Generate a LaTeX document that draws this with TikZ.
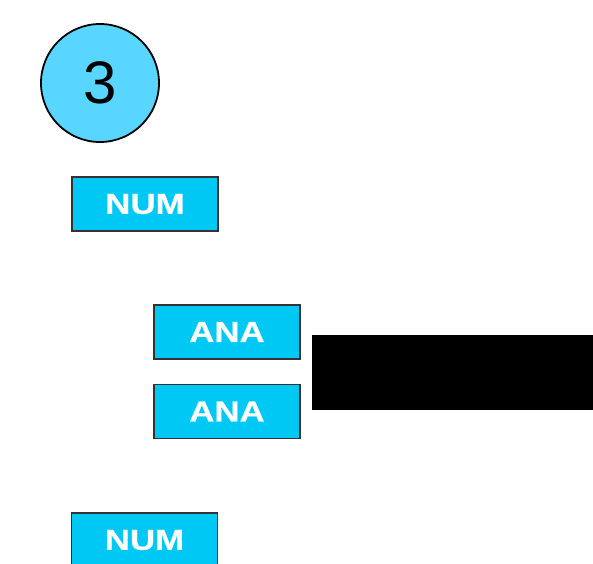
\documentclass[tikz,border=0pt]{standalone}
\usepackage{fontspec}
\setmainfont{Liberation Sans}
\newfontfamily\tagfont[FakeStretch=1.2, BoldFeatures={FakeBold=0.6}]{Liberation Sans}
\definecolor{stepblue}{RGB}{88,214,255}
\definecolor{tagblue}{RGB}{0,200,245}

\begin{document}
\begin{tikzpicture}[x=0.5pt, y=-0.5pt,
    tag/.style={draw=black!80, fill=tagblue, line width=0.8pt, minimum width=73pt, minimum height=27pt,
      inner sep=0pt, text=white, font=\tagfont\bfseries\fontsize{14.5}{14.5}\selectfont}]
    \useasboundingbox (0,0) rectangle (593,563);
    \clip (0,0) rectangle (593,563);
    \node[circle, draw, fill=stepblue, line width=0.9pt, minimum size=59pt, inner sep=0pt,
      font=\fontsize{30}{30}\selectfont] (step3) at (100,83) {3};
    \node[tag] (num1) at (145,204) {NUM};
    \node[tag] (ana1) at (227,332) {ANA};
    \node[tag] (ana2) at (227,411.5) {ANA};
    \node[tag] (num2) at (144.5,540) {NUM};
    % black bar running off the right edge
    \fill[black] (312,335) rectangle (600,410);
\end{tikzpicture}
\end{document}
